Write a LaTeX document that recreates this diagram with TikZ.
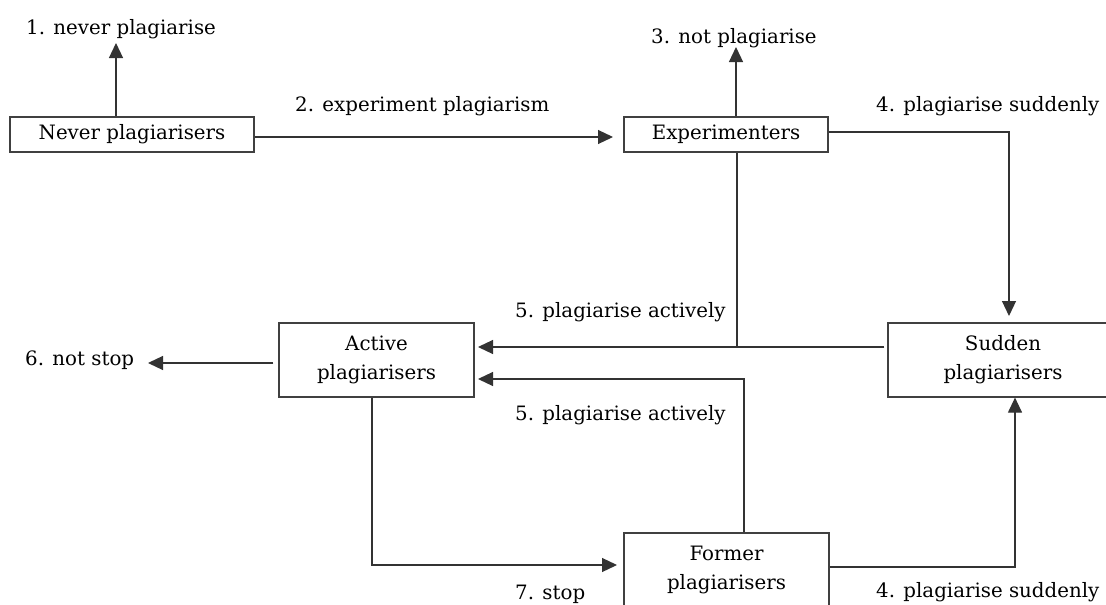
\documentclass[tikz,border=0pt]{standalone}
\usepackage{fontspec}
\setmainfont{DejaVu Serif}
\usetikzlibrary{arrows.meta}
\begin{document}
\begin{tikzpicture}[x=1pt,y=-1pt,
  txt/.style={font=\fontsize{19.8}{29}\selectfont, text=black},
  box/.style={txt, draw=black!75, line width=1.2pt, inner sep=0pt, align=center},
  lbl/.style={txt, inner sep=0pt, anchor=base west},
  conn/.style={draw=black!80, line width=1.2pt},
  arr/.style={conn, -{Triangle[length=15pt,width=14pt]}}]
\useasboundingbox (0,0) rectangle (1106,605);
% boxes
\node[box, minimum width=244pt, minimum height=35pt] (never) at (132,134.5) {Never plagiarisers};
\node[box, minimum width=204pt, minimum height=35pt] (exp) at (726,134.5) {Experimenters};
\node[box, minimum width=195pt, minimum height=74pt] (active) at (376.5,360) {Active\\plagiarisers};
\node[box, minimum width=230pt, minimum height=74pt] (sudden) at (1003,360) {Sudden\\plagiarisers};
\node[box, minimum width=205pt, minimum height=74pt] (former) at (726.5,570) {Former\\plagiarisers};
% labels
\node[lbl] (l1) at (26,34.5) {1. never plagiarise};
\node[lbl] (l2) at (295,111.5) {2. experiment plagiarism};
\node[lbl] (l3) at (651,43.3) {3. not plagiarise};
\node[lbl] (l4a) at (876,111) {4. plagiarise suddenly};
\node[lbl] (l5a) at (515,317) {5. plagiarise actively};
\node[lbl] (l5b) at (515,420) {5. plagiarise actively};
\node[lbl] (l6) at (25,365) {6. not stop};
\node[lbl] (l7) at (515,599) {7. stop};
\node[lbl] (l4b) at (876,597) {4. plagiarise suddenly};
% coordinates
\coordinate (t1) at (116,43);
\coordinate (t2) at (613,137);
\coordinate (t3) at (736,47);
\coordinate (c4a) at (1009,132);
\coordinate (t4a) at (1009,316);
\coordinate (j5) at (737,347);
\coordinate (t5a) at (478,347);
\coordinate (k5) at (744,379);
\coordinate (t5b) at (478,379);
\coordinate (t6) at (148,363);
\coordinate (k7) at (372,565);
\coordinate (t7) at (617,565);
\coordinate (k4) at (1015,567);
% connectors
\draw[arr] (never.north -| t1) -- (t1);
\draw[arr] (never.east |- t2) -- (t2);
\draw[arr] (exp.north -| t3) -- (t3);
\draw[arr] (exp.east |- c4a) -- (c4a) -- (t4a);
\draw[conn] (exp.south -| j5) -- (j5);
\draw[arr] ([xshift=-3pt]sudden.west |- j5) -- (t5a);
\draw[arr] (former.north -| k5) |- (t5b);
\draw[arr] ([xshift=-5pt]active.west |- t6) -- (t6);
\draw[arr] (active.south -| k7) |- (t7);
\draw[arr] (former.east |- k4) -| (sudden.south -| k4);
\end{tikzpicture}
\end{document}
